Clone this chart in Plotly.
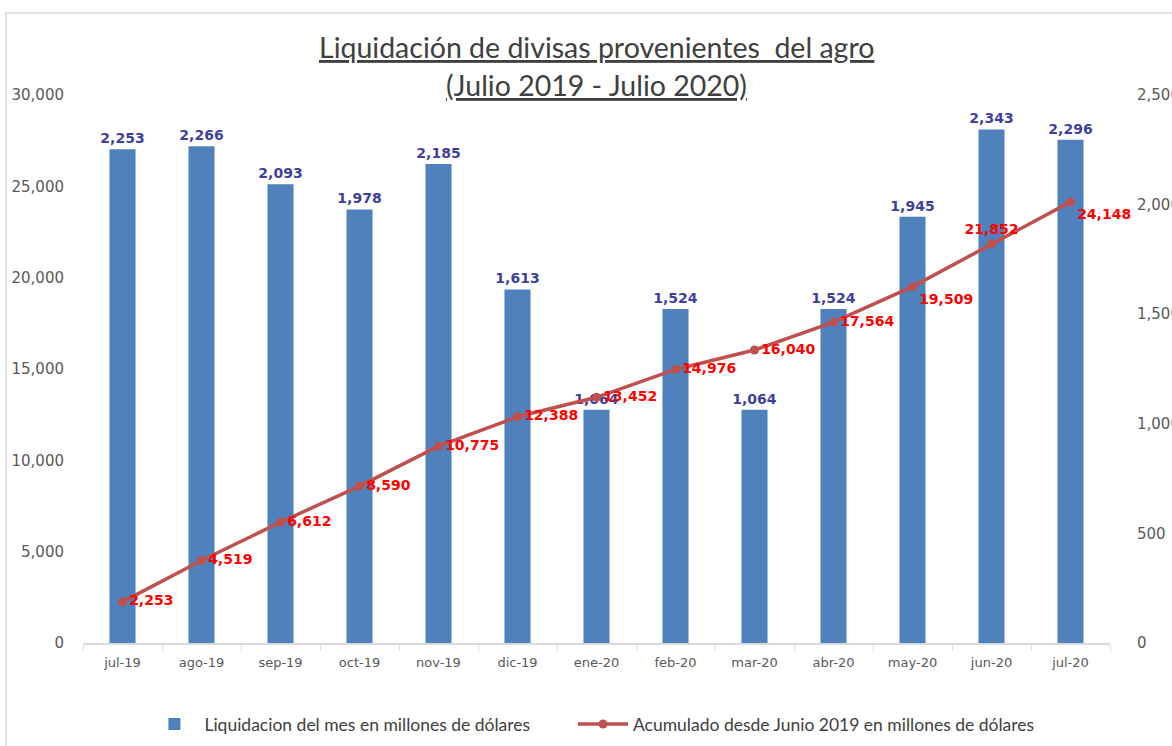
import plotly.graph_objects as go

months = ["jul-19", "ago-19", "sep-19", "oct-19", "nov-19", "dic-19", "ene-20",
          "feb-20", "mar-20", "abr-20", "may-20", "jun-20", "jul-20"]
monthly = [2253, 2266, 2093, 1978, 2185, 1613, 1064, 1524, 1064, 1524, 1945, 2343, 2296]
cumulative = [2253, 4519, 6612, 8590, 10775, 12388, 13452, 14976, 16040, 17564, 19509, 21852, 24148]
cum_text_pos = ["middle right"] * 10 + ["bottom right", "top center", "bottom right"]

bar_name = "Liquidacion del mes en millones de dólares"
line_name = "Acumulado desde Junio 2019 en millones de dólares"

fig = go.Figure()
fig.add_trace(go.Bar(
    x=months, y=monthly, name=bar_name, yaxis="y", legend="legend",
    marker=dict(color="#4F81BD", line=dict(width=0)), width=0.33,
    texttemplate="%{y:,}", textposition="outside", constraintext="none",
    textfont=dict(family="DejaVu Sans", size=14, color="#3F3F9F", weight="bold"),
    cliponaxis=False,
))
fig.add_trace(go.Scatter(
    x=months, y=cumulative, name=line_name, yaxis="y2", legend="legend2",
    mode="lines+markers+text",
    line=dict(color="#C0504D", width=3.5),
    marker=dict(color="#C0504D", size=9),
    texttemplate="%{y:,}", textposition=cum_text_pos,
    textfont=dict(family="DejaVu Sans", size=14, color="#FF0000", weight="bold"),
    cliponaxis=False,
))

tickfont = dict(family="DejaVu Sans", size=15, color="#595959")
legend_font = dict(family="Lato", size=17.5, color="#404040")
fig.update_layout(
    width=1172, height=746,
    margin=dict(l=83, r=62, t=95, b=103, autoexpand=False),
    paper_bgcolor="white", plot_bgcolor="white",
    showlegend=True,
    legend=dict(orientation="h", x=0.0598, xanchor="left", y=-0.148, yanchor="middle",
                font=legend_font, itemwidth=50),
    legend2=dict(orientation="h", x=0.4771, xanchor="left", y=-0.148, yanchor="middle",
                 font=legend_font, itemwidth=50),
    xaxis=dict(showline=True, linecolor="#D9D9D9", linewidth=1.5, automargin=False,
               range=[-0.5, len(months) - 0.5],
               ticks="outside", tickson="boundaries", ticklen=6, tickcolor="#D9D9D9",
               tickfont=dict(family="DejaVu Sans", size=13, color="#595959"),
               ticklabelstandoff=7, showgrid=False),
    yaxis=dict(side="right", range=[0, 2500], dtick=500, tickformat=",", automargin=False,
               showgrid=False, zeroline=False, showline=False,
               tickfont=tickfont, ticklabelstandoff=26),
    yaxis2=dict(side="left", overlaying="y", range=[0, 30000], dtick=5000, tickformat=",",
                automargin=False,
                showgrid=False, zeroline=False, showline=False,
                tickfont=tickfont, ticklabelstandoff=18),
    shapes=[dict(type="rect", xref="paper", yref="paper",
                 x0=-0.075, x1=1.2, y0=-0.25, y1=1.1496,
                 line=dict(color="#D9D9D9", width=1.5), fillcolor="rgba(0,0,0,0)",
                 layer="below")],
    annotations=[
        dict(text="Liquidación de divisas provenientes  del agro", xref="paper", yref="paper",
             x=0.5, y=(643 - 47) / 548, xanchor="center", yanchor="middle", showarrow=False,
             font=dict(family="Lato", size=28.5, color="#404040", lineposition="under")),
        dict(text="(Julio 2019 - Julio 2020)", xref="paper", yref="paper",
             x=0.5, y=(643 - 85) / 548, xanchor="center", yanchor="middle", showarrow=False,
             font=dict(family="Lato", size=28.5, color="#404040", lineposition="under")),
    ],
)

fig.write_html("out.html", config={"displayModeBar": False},
               post_script="document.body.style.margin='0';document.body.style.overflow='hidden';")
